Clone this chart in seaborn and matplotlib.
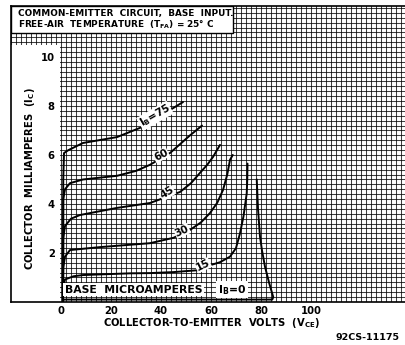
import numpy as np
import pandas as pd
import matplotlib
matplotlib.use("Agg")
import matplotlib.pyplot as plt
import seaborn as sns
from matplotlib.patches import Rectangle
from matplotlib.ticker import MultipleLocator, FixedLocator

# base current levels (microamperes) and the collector curves, Vce in volts, Ic in mA
ib_levels = ["0", "15", "30", "45", "60", "75"]

vce_0 = [0.8, 1.0, 84.5, 84.9, 83.2, 81.6, 80.4, 79.6, 78.8, 78.3]
ic_0 = [0.0, 0.1, 0.1, 0.2, 0.8, 1.44, 2.1, 2.67, 3.8, 5.0]

vce_15 = [0.8, 0.9, 1.6, 5, 8.8, 27.6, 35.6, 45, 55, 59.6, 63.5, 67.6, 70, 71.6, 73, 74.3, 74.5, 74.6]
ic_15 = [0.0, 0.6, 0.92, 1.05, 1.1, 1.17, 1.18, 1.22, 1.3, 1.5, 1.62, 1.85, 2.2, 2.8, 3.5, 4.44, 5.0, 5.65]

vce_30 = [0.8, 0.9, 1.6, 3.6, 15.6, 35.6, 45, 51.6, 56, 59.6, 62.5, 64.8, 66.5, 67.6, 68.7]
ic_30 = [0.0, 1.4, 1.85, 2.12, 2.24, 2.4, 2.62, 2.94, 3.25, 3.63, 4.05, 4.57, 5.2, 5.8, 6.0]

vce_45 = [0.8, 0.9, 1.6, 4, 7.6, 22.4, 35.6, 47.6, 52, 55.6, 58.5, 60.8, 63.6]
ic_45 = [0.0, 2.6, 3.1, 3.4, 3.55, 3.84, 4.04, 4.49, 4.85, 5.27, 5.6, 5.92, 6.41]

vce_60 = [0.8, 0.9, 1.6, 3.6, 8.8, 22.4, 30, 35.6, 43.6, 51.6, 56.4]
ic_60 = [0.0, 4.2, 4.6, 4.85, 5.0, 5.15, 5.35, 5.6, 6.08, 6.8, 7.2]

vce_75 = [0.8, 0.9, 1.2, 3, 8.8, 22.4, 35.6, 42.4, 48.8]
ic_75 = [0.0, 5.0, 6.08, 6.2, 6.49, 6.73, 7.27, 7.76, 8.16]

x_ticks = [0, 20, 40, 60, 80, 100]
y_ticks = [2, 4, 6, 8, 10]

curves = [(vce_0, ic_0), (vce_15, ic_15), (vce_30, ic_30),
          (vce_45, ic_45), (vce_60, ic_60), (vce_75, ic_75)]
rows = []
for lvl, (vs, ics) in zip(ib_levels, curves):
    for v, i in zip(vs, ics):
        rows.append((lvl, v, i))
df = pd.DataFrame(rows, columns=["ib", "vce", "ic"])

sns.set_style("white")
plt.rcParams["font.family"] = ["DejaVu Sans"]
plt.rcParams["font.weight"] = "bold"
plt.rcParams["text.color"] = "black"
plt.rcParams["xtick.color"] = "black"
plt.rcParams["ytick.color"] = "black"
plt.rcParams["axes.labelcolor"] = "black"

fig = plt.figure(figsize=(4.05, 3.45), dpi=100)
pos = [11 / 405, 43 / 345, 394 / 405, 296 / 345]
xlim = (-20, 137.6)
ylim = (0, 12.08)

# bottom axes: graph paper + white boxes
gx = fig.add_axes(pos)
gx.set_xlim(*xlim)
gx.set_ylim(*ylim)
gx.xaxis.set_major_locator(MultipleLocator(2))
gx.yaxis.set_major_locator(MultipleLocator(0.2))
gx.grid(which="major", color="black", lw=0.75, alpha=0.75)
gx.set_axisbelow(True)
gx.tick_params(length=0, labelbottom=False, labelleft=False)
for s in gx.spines.values():
    s.set_visible(False)
gx.add_patch(Rectangle((-20, 10.98), 88.8, 1.1, facecolor="white",
                       edgecolor="black", lw=1.0, zorder=1))
gx.add_patch(Rectangle((-20, 0), 19.6, 10.49, facecolor="white",
                       edgecolor="none", zorder=1))

# top axes: curves, ticks and text
ax = fig.add_axes(pos)
ax.patch.set_visible(False)
sns.lineplot(data=df, x="vce", y="ic", hue="ib", estimator=None, sort=False,
             palette=["black"] * len(ib_levels), legend=False, lw=1.4, ax=ax)
ax.set_xlim(*xlim)
ax.set_ylim(*ylim)
ax.xaxis.set_major_locator(FixedLocator(x_ticks))
ax.yaxis.set_major_locator(FixedLocator(y_ticks))
ax.tick_params(axis="both", which="both", length=0, labelsize=7.2, labelcolor="black")
ax.tick_params(axis="x", pad=3)
ax.tick_params(axis="y", pad=-31.5)
ax.set_xticklabels([str(t) for t in x_ticks])
ax.set_yticklabels([str(t) for t in y_ticks])
ax.set_xlabel("")
ax.set_ylabel("")
ax.grid(False)

for side in ["left", "bottom", "top"]:
    ax.spines[side].set_color("black")
    ax.spines[side].set_linewidth(1.2)
ax.spines["right"].set_visible(False)

ax.text(-17.2, 11.78, "COMMON-EMITTER  CIRCUIT,  BASE  INPUT.", fontsize=6.4,
        ha="left", va="center", zorder=3)
ax.text(-17.2, 11.3, "FREE-AIR  TEMPERATURE  (T$_\\mathregular{FA}$) = 25° C",
        fontsize=6.4, ha="left", va="center", zorder=3)

ax.text(-12.4, 5.04, "COLLECTOR  MILLIAMPERES  (I$_\\mathregular{C}$)", fontsize=7.2,
        rotation=90, ha="center", va="center", zorder=3)
ax.text(60, -0.85, "COLLECTOR-TO-EMITTER  VOLTS  (V$_\\mathregular{CE}$)", fontsize=7.2,
        ha="center", va="center", clip_on=False)

# curve labels
box = dict(facecolor="white", edgecolor="none", pad=0.3)
curve_labels = [("I$_\\mathregular{B}$=75", 37.6, 7.6, 30),
                ("60", 40.0, 6.0, 27),
                ("45", 42.4, 4.45, 32),
                ("30", 48.4, 2.9, 24),
                ("15", 56.8, 1.5, 26)]
for txt, x, y, rot in curve_labels:
    ax.text(x, y, txt, fontsize=7.5, rotation=rot, rotation_mode="anchor",
            ha="center", va="center", bbox=box, zorder=3)

ax.text(29, 0.5, "BASE  MICROAMPERES", fontsize=7.8, ha="center", va="center",
        bbox=dict(facecolor="white", edgecolor="none", pad=1.0), zorder=3)
ax.text(68.4, 0.5, "I$_\\mathregular{B}$=0", fontsize=7.8, ha="center", va="center",
        bbox=dict(facecolor="white", edgecolor="none", pad=1.0), zorder=3)

fig.text(368 / 405, 12 / 345, "92CS-11175", fontsize=6.8, ha="center", va="top")

fig.savefig("out.png", dpi=100)
